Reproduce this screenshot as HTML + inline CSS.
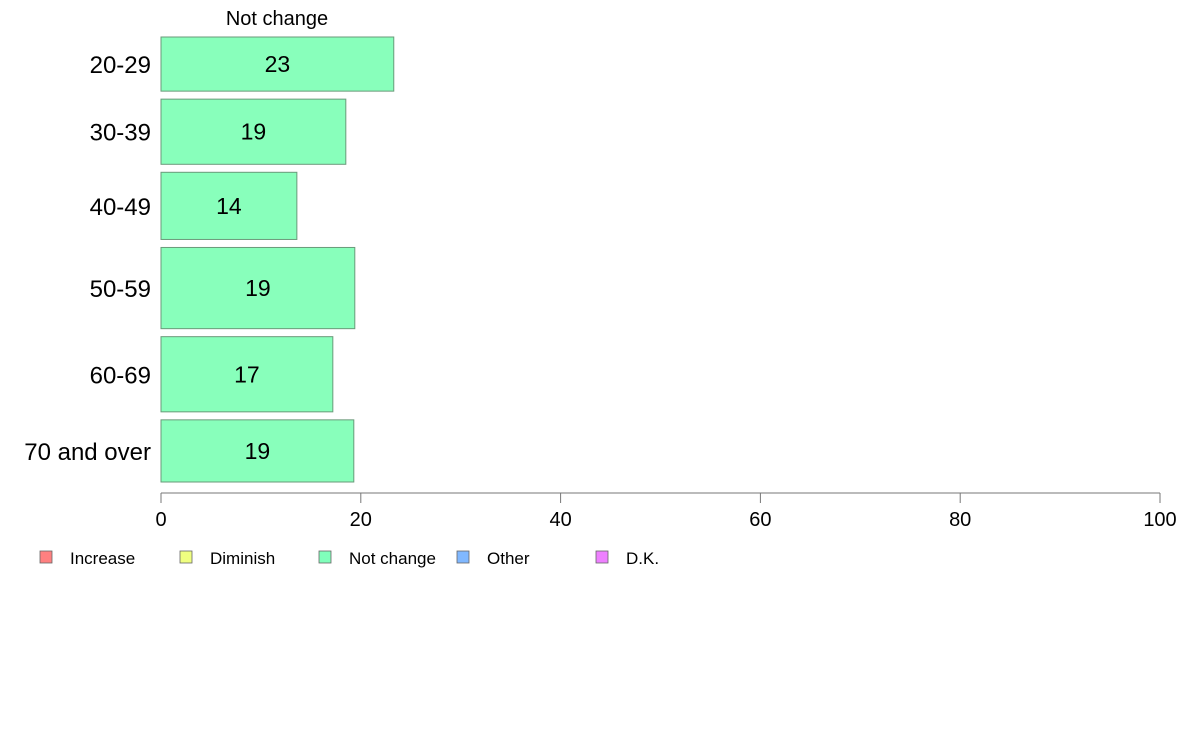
<!DOCTYPE html>
<html><head><meta charset="utf-8"><style>
body{margin:0;background:#fff;}
svg text{font-family:"Liberation Sans",Arial,sans-serif;}
</style></head><body>
<svg id="chart" width="1188" height="736" xmlns="http://www.w3.org/2000/svg">
<text x="277" y="25" font-size="20" text-anchor="middle">Not change</text>
<g id="bars"></g>
<g id="axis"></g>
<g id="legend"></g>
</svg>
<script>
const categories=["20-29","30-39","40-49","50-59","60-69","70 and over"];
const values=[23.3,18.5,13.6,19.4,17.2,19.3];
const labels=["23","19","14","19","17","19"];
const weights=[54,65,67,81,75,62];
const ticks=[0,20,40,60,80,100];
const legendNames=["Increase","Diminish","Not change","Other","D.K."];
const legendColors=["#ff8080","#f0ff80","#80ffbb","#80b8ff","#ee80ff"];

const NS="http://www.w3.org/2000/svg";
function mk(t,a,p){const e=document.createElementNS(NS,t);for(const k in a)e.setAttribute(k,a[k]);p.appendChild(e);return e;}
const x0=161,x1=1160,xs=v=>x0+(x1-x0)*v/100;
const plotTop=37,plotBottom=482,gap=8;
const totalW=weights.reduce((a,b)=>a+b,0);
const avail=plotBottom-plotTop-gap*(weights.length-1);
const bars=document.getElementById('bars');
let y=plotTop;
categories.forEach((c,i)=>{
  const h=avail*weights[i]/totalW;
  const r=mk('rect',{x:x0,y:y,width:xs(values[i])-x0,height:h,fill:'#88ffbb',stroke:'#6a9a7a','stroke-width':1},bars);
  
  
  const t=mk('text',{x:(x0+xs(values[i]))/2,y:y+h/2+8,'font-size':23,'text-anchor':'middle'},bars);
  t.textContent=labels[i];
  
  
  const cl=mk('text',{x:151,y:y+h/2+9,'font-size':24,'text-anchor':'end'},bars);
  cl.textContent=c;
  
  
  y+=h+gap;
});
const ax=document.getElementById('axis');
const l=mk('line',{x1:x0,x2:x1,y1:493,y2:493,stroke:'#777'},ax);


ticks.forEach(v=>{
  const tl=mk('line',{x1:xs(v),x2:xs(v),y1:493,y2:503,stroke:'#777'},ax);
  
  
  const tt=mk('text',{x:xs(v),y:526,'font-size':20,'text-anchor':'middle'},ax);
  tt.textContent=v;
  
  
});
const lg=document.getElementById('legend');
const lx=[40,180,319,457,596];
legendNames.forEach((n,i)=>{
  const r=mk('rect',{x:lx[i],y:551,width:12,height:12,fill:legendColors[i],stroke:'#666','stroke-width':0.8},lg);
  
  
  const t=mk('text',{x:lx[i]+30,y:564,'font-size':17},lg);
  t.textContent=n;
  
  
});
</script>
</body></html>
